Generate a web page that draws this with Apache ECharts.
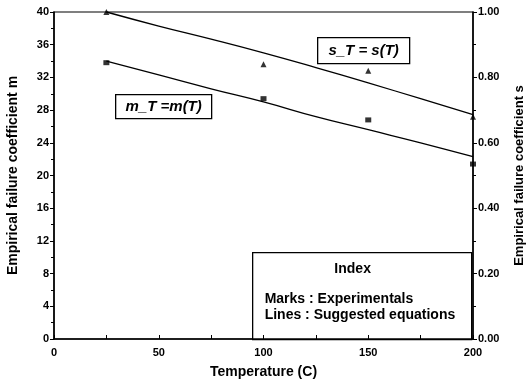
<!DOCTYPE html>
<html>
<head>
<meta charset="utf-8">
<script src="https://cdn.jsdelivr.net/npm/echarts@6/dist/echarts.min.js"></script>
<style>
  html, body { margin: 0; padding: 0; background: #fff; }
  #chart { width: 528px; height: 381px; }
</style>
</head>
<body>
<div id="chart"></div>
<script>
// measured points
const expTemps = [25, 100, 150, 200]
const mExp = [33.8, 29.4, 26.8, 21.4]
const sExp = [1.0, 0.84, 0.82, 0.68]

// suggested equations
const lineTemps = [25, 50, 75, 100, 125, 150, 175, 200]
const mLine = [34.0, 32.3, 30.6, 29.0, 27.2, 25.6, 24.0, 22.3]
const sLine = [1.0, 0.957, 0.917, 0.875, 0.83, 0.783, 0.735, 0.686]

const font = 'Liberation Sans, Arial, sans-serif'

const pairs = (xs, ys) => xs.map((x, i) => [x, ys[i]])

const chart = echarts.init(document.getElementById('chart'))

const axisText = { color: '#000', fontFamily: font, fontWeight: 'bold', fontSize: 11 }

const option = {
  animation: false,
  backgroundColor: '#fff',
  grid: {
    left: 54, right: 55, top: 12, bottom: 42,
    outerBoundsMode: 'none',
    show: true, borderColor: '#000', borderWidth: 1.2
  },
  xAxis: {
    type: 'value', min: 0, max: 200, interval: 50,
    name: 'Temperature (C)', nameLocation: 'middle', nameGap: 26,
    nameTextStyle: { color: '#000', fontFamily: font, fontWeight: 'bold', fontSize: 14 },
    axisLine: { lineStyle: { color: '#000', width: 1.5 } },
    axisTick: { inside: true, length: 4, lineStyle: { color: '#000' } },
    minorTick: { show: true, splitNumber: 2, length: 4, lineStyle: { color: '#000' } },
    axisLabel: Object.assign({ margin: 8 }, axisText),
    splitLine: { show: false }
  },
  yAxis: [
    {
      type: 'value', min: 0, max: 40, interval: 4, position: 'left',
      name: 'Empirical failure coefficient m', nameLocation: 'middle', nameGap: 34,
      nameTextStyle: { color: '#000', fontFamily: font, fontWeight: 'bold', fontSize: 14 },
      axisLine: { show: true, lineStyle: { color: '#000', width: 1.5 } },
      axisTick: { show: true, length: 4, lineStyle: { color: '#000' } },
      minorTick: { show: true, splitNumber: 2, length: 3, lineStyle: { color: '#000' } },
      axisLabel: Object.assign({ margin: 5 }, axisText),
      splitLine: { show: false }
    },
    {
      type: 'value', min: 0, max: 1, interval: 0.2, position: 'right',
      name: 'Empirical failure coefficient s', nameLocation: 'middle', nameGap: 40,
      nameTextStyle: { color: '#000', fontFamily: font, fontWeight: 'bold', fontSize: 13 },
      axisLine: { show: true, lineStyle: { color: '#000', width: 1.5 } },
      axisTick: { show: true, length: 4, lineStyle: { color: '#000' } },
      minorTick: { show: true, splitNumber: 2, length: 3, lineStyle: { color: '#000' } },
      axisLabel: Object.assign({ margin: 5, formatter: v => v.toFixed(2) }, axisText),
      splitLine: { show: false }
    }
  ],
  series: [
    {
      name: 'm line', type: 'line', yAxisIndex: 0, smooth: true,
      data: pairs(lineTemps, mLine), showSymbol: false,
      lineStyle: { color: '#000', width: 1.3 }, clip: false
    },
    {
      name: 's line', type: 'line', yAxisIndex: 1, smooth: true,
      data: pairs(lineTemps, sLine), showSymbol: false,
      lineStyle: { color: '#000', width: 1.3 }, clip: false
    },
    {
      name: 'm exp', type: 'scatter', yAxisIndex: 0,
      data: pairs(expTemps, mExp), symbol: 'rect', symbolSize: [6, 5],
      itemStyle: { color: '#000' }, clip: false
    },
    {
      name: 's exp', type: 'scatter', yAxisIndex: 1,
      data: pairs(expTemps, sExp), symbol: 'triangle', symbolSize: 6,
      itemStyle: { color: '#000' }, clip: false
    }
  ],
  graphic: [
    {
      type: 'group', left: 115, top: 94,
      children: [
        { type: 'rect', shape: { x: 0, y: 0, width: 96, height: 24 },
          style: { fill: '#fff', stroke: '#000', lineWidth: 1.3 } },
        { type: 'text', x: 48, y: 12,
          style: { text: 'm_T =m(T)', fill: '#000', font: 'italic bold 15px ' + font,
            textAlign: 'center', textVerticalAlign: 'middle' } }
      ]
    },
    {
      type: 'group', left: 317, top: 37,
      children: [
        { type: 'rect', shape: { x: 0, y: 0, width: 92, height: 26 },
          style: { fill: '#fff', stroke: '#000', lineWidth: 1.3 } },
        { type: 'text', x: 46, y: 13,
          style: { text: 's_T = s(T)', fill: '#000', font: 'italic bold 15px ' + font,
            textAlign: 'center', textVerticalAlign: 'middle' } }
      ]
    },
    {
      type: 'group', left: 252, top: 252,
      children: [
        { type: 'rect', shape: { x: 0, y: 0, width: 219, height: 87 },
          style: { fill: '#fff', stroke: '#000', lineWidth: 1.3 } },
        { type: 'text', x: 100, y: 16,
          style: { text: 'Index', fill: '#000', font: 'bold 14px ' + font,
            textAlign: 'center', textVerticalAlign: 'middle' } },
        { type: 'text', x: 12, y: 46,
          style: { text: 'Marks : Experimentals', fill: '#000', font: 'bold 14px ' + font,
            textAlign: 'left', textVerticalAlign: 'middle' } },
        { type: 'text', x: 12, y: 62,
          style: { text: 'Lines : Suggested equations', fill: '#000', font: 'bold 14px ' + font,
            textAlign: 'left', textVerticalAlign: 'middle' } }
      ]
    }
  ]
}

chart.setOption(option)
</script>
</body>
</html>
